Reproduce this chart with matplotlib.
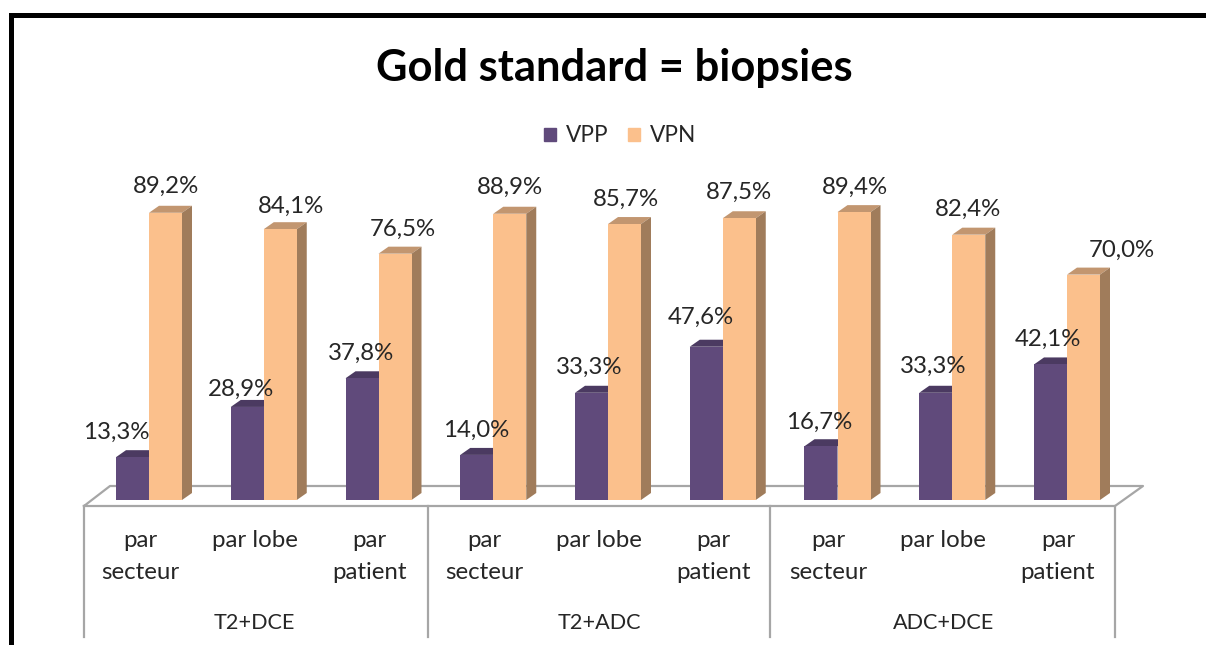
"""Gold standard = biopsies: pseudo-3D grouped bars, VPP / VPN."""

import matplotlib
matplotlib.use("Agg")
import matplotlib.pyplot as plt
import numpy as np
from matplotlib.patches import Patch, Polygon, Rectangle

plt.rcParams["font.family"] = ["Lato", "DejaVu Sans"]

# data
categories = ["par\nsecteur", "par lobe", "par\npatient"] * 3
groups = ["T2+DCE", "T2+ADC", "ADC+DCE"]
vpp = [13.3, 28.9, 37.8, 14.0, 33.3, 47.6, 16.7, 33.3, 42.1]
vpn = [89.2, 84.1, 76.5, 88.9, 85.7, 87.5, 89.4, 82.4, 70.0]

# hand-placed label offsets (px), as in the original slide
vpp_label_dx = [-16, -6, -1, -1, -2, -5, -2, -3, -3]
vpp_label_dy = [25, 18, 25, 25, 25, 29, 24, 26, 25]
vpn_label_dx = [0, 11, 8, 0, 1, 0, 1, -1, 38]
vpn_label_dy = [26, 23, 24, 26, 25, 26, 25, 25, 24]

W, H = 1206, 645
PX_X = 114.75    # pixels per category
PX_Y = 3.22      # pixels per percent
X0, Y0 = 149, 500

PURPLE, PURPLE_TOP = "#604a7b", "#4b3a61"
ORANGE, ORANGE_TOP, ORANGE_SIDE = "#fbc08c", "#c29670", "#a07c5b"
GREY = "#a6a6a6"
TEXT = "#262626"


def px(x):
    return (x - X0) / PX_X


def py(y):
    return (Y0 - y) / PX_Y


fig = plt.figure(figsize=(W / 100, H / 100), dpi=100)
ax = fig.add_axes([0, 0, 1, 1])
ax.set_xlim(px(0), px(W))
ax.set_ylim(py(H), py(0))
ax.axis("off")

# slide frame
fig.patches.append(Rectangle((9 / W, 0), 5 / W, 1 - 13 / H, transform=fig.transFigure,
                             color="black", lw=0))
fig.patches.append(Rectangle((9 / W, 1 - 18 / H), 1, 5 / H, transform=fig.transFigure,
                             color="black", lw=0))

# floor
floor_x = [px(84), px(110), px(1143), px(1115), px(84)]
floor_y = [py(506), py(486), py(486), py(506), py(506)]
ax.plot(floor_x, floor_y, color=GREY, lw=1.6, zorder=1)

# category table
for sep in (84, 428, 770, 1115):
    ax.plot([px(sep)] * 2, [py(506), py(637)], color=GREY, lw=1.6, zorder=1)

x = np.arange(len(vpp))
w = 33 / PX_X
dx, dy = 10 / PX_X, 7 / PX_Y


def draw_series(xs, values, color, top, side):
    ax.bar(xs, values, width=w, color=color, lw=0, zorder=3)
    for xc, v in zip(xs, values):
        l, r = xc - w / 2, xc + w / 2
        ax.add_patch(Polygon([(l, v), (r, v), (r + dx, v + dy), (l + dx, v + dy)],
                             color=top, lw=0, zorder=2.5))
        ax.add_patch(Polygon([(r, 0), (r + dx, dy), (r + dx, v + dy), (r, v)],
                             color=side, lw=0, zorder=2.5))


draw_series(x - w / 2, vpp, PURPLE, PURPLE_TOP, PURPLE_TOP)
draw_series(x + w / 2, vpn, ORANGE, ORANGE_TOP, ORANGE_SIDE)


def value_labels(xs, values, dxs, dys):
    for xc, v, ox, oy in zip(xs, values, dxs, dys):
        ax.text(xc + ox / PX_X, v + oy / PX_Y, f"{v:.1f}%".replace(".", ","),
                ha="center", va="center", fontsize=17.3, color=TEXT, zorder=5)


value_labels(x - w / 2, vpp, vpp_label_dx, vpp_label_dy)
value_labels(x + w / 2, vpn, vpn_label_dx, vpn_label_dy)

# axis labels
for xc, cat in zip(x, categories):
    ax.text(xc - 9 / PX_X, py(530), cat, ha="center", va="top", fontsize=17.3,
            color=TEXT, linespacing=1.62)
for i, grp in enumerate(groups):
    ax.text(x[3 * i + 1] - 9 / PX_X, py(623), grp, ha="center", va="center",
            fontsize=15.6, color=TEXT)

fig.text(614 / W, 1 - 68 / H, "Gold standard = biopsies", ha="center", va="center",
         fontsize=31.3, fontweight="bold", color="black")

fig.legend(handles=[Patch(color=PURPLE, label="VPP"), Patch(color=ORANGE, label="VPN")],
           loc="center", bbox_to_anchor=(620 / W, 1 - 136 / H), ncol=2, frameon=False,
           fontsize=16.3, handlelength=0.52, handleheight=0.52, handletextpad=0.45,
           columnspacing=0.85, labelcolor=TEXT)

fig.savefig("out.png", dpi=100)
